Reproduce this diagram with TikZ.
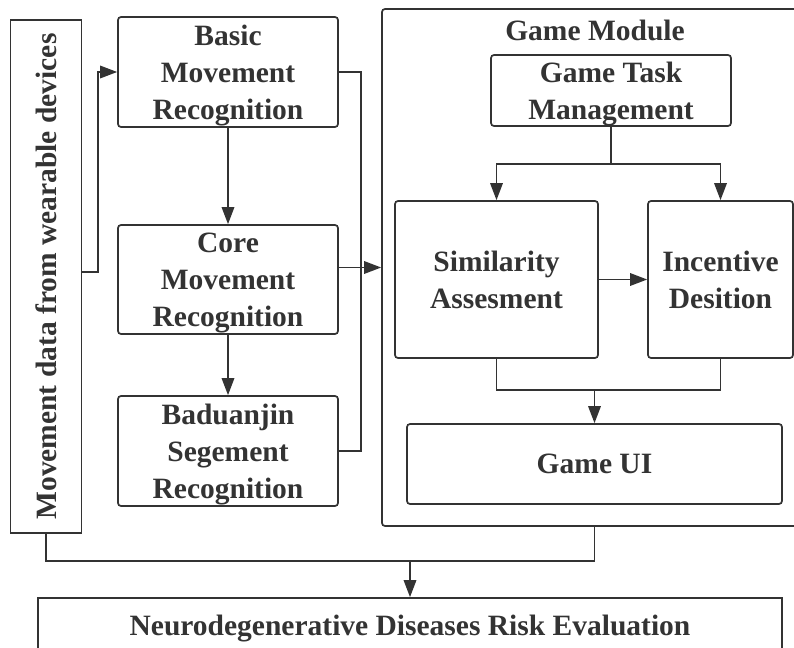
\documentclass[tikz,border=0pt]{standalone}
\usepackage{fontspec}
\setmainfont{Liberation Serif}
\usepackage{xcolor}
\usetikzlibrary{arrows.meta,positioning}
\definecolor{inkgray}{HTML}{333333}
\tikzset{
  arr/.style = {-{Triangle[length=17pt,width=12.5pt]}},
  blk/.style = {draw, rounded corners=3pt, inner sep=0pt, align=center,
                text depth=-2pt},
}
\begin{document}
\begin{tikzpicture}[x=1pt, y=-1pt, line width=1.7pt, color=inkgray,
    font=\fontsize{29.5}{37}\selectfont\bfseries]
  \useasboundingbox (0,0) rectangle (794,647);
  \clip (0,0) rectangle (794,647);

  % input and recognition chain
  \node[draw, inner sep=0pt, minimum width=71, minimum height=513] (data) at (46,276.5)
    {\rotatebox{90}{Movement data from wearable devices}};
  \node[blk, minimum width=220, minimum height=110] (basic) at (228,72)
    {Basic\\Movement\\Recognition};
  \node[blk, minimum width=220, minimum height=109] (core) at (228,279.5)
    {Core\\Movement\\Recognition};
  \node[blk, minimum width=220, minimum height=110] (badu) at (228,451)
    {Baduanjin\\Segement\\Recognition};

  % game module
  \node[draw, rounded corners=3pt, minimum width=418, minimum height=517] (game) at (591,267.5) {};
  \node (gtitle) at (595,30) {Game Module};
  \node[blk, minimum width=240, minimum height=71] (gtm) at (611,90.5)
    {Game Task\\Management};
  \node[blk, minimum width=203, minimum height=157] (sim) at (496.5,279.5)
    {Similarity\\Assesment};
  \node[blk, minimum width=145, minimum height=157] (inc) at (720.5,279.5)
    {Incentive\\Desition};
  \node[blk, minimum width=375, minimum height=80] (gui) at (594.5,464) {Game UI};

  \node[draw, inner sep=0pt, minimum width=744, minimum height=62] (eval) at (410,629)
    {Neurodegenerative Diseases Risk Evaluation};

  \coordinate[below=37pt of gtm.south] (split);
  \coordinate[above=33pt of gui.north] (merge);
  \coordinate[above=36pt of eval.north] (join);

  \draw[arr] ([yshift=4.5pt]data.east) -- ++(15.5,0) |- (basic.west);
  \draw[arr] (basic) -- (core);
  \draw[arr] (core) -- (badu);
  \draw (basic.east) -| ++(22,196) |- (badu.east);
  \draw[arr] (core.east |- game.west) -- (game.west);

  \draw (gtm.south) -- (split);
  \draw[arr] (split) -| (sim.north);
  \draw[arr] (split) -| (inc.north);
  \draw[arr] (sim) -- (inc);
  \draw (sim.south) |- (merge);
  \draw (inc.south) |- (merge);
  \draw[arr] (merge) -- (gui.north);

  \draw (gui.south |- game.south) |- (join);
  \draw (data.south) |- (join);
  \draw[arr] (join) -- (eval.north);
\end{tikzpicture}
\end{document}
